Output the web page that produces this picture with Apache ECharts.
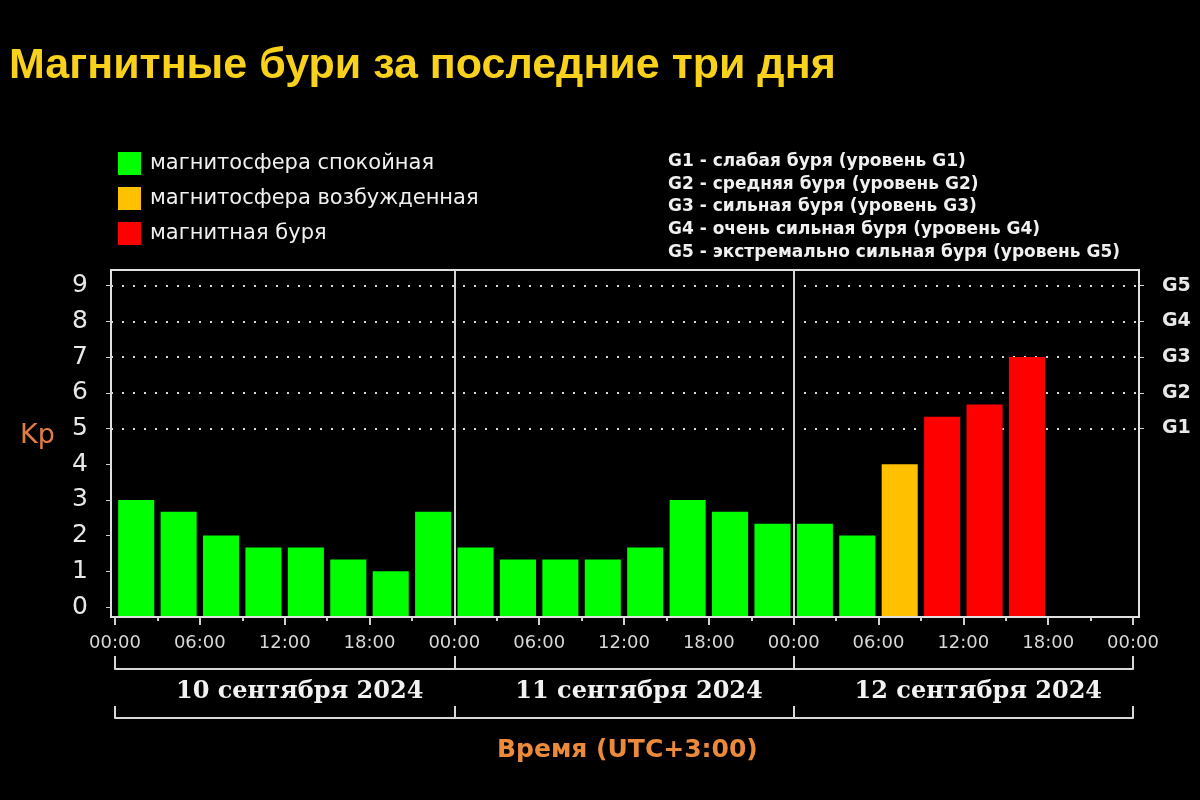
<!DOCTYPE html>
<html>
<head>
<meta charset="utf-8">
<script src="https://cdn.jsdelivr.net/npm/echarts@6/dist/echarts.min.js"></script>
<style>html,body{margin:0;padding:0;background:#000;}#c{width:1200px;height:800px;}</style>
</head>
<body>
<div id="c"></div>
<script>
// ---- data ----
const titleText = 'Магнитные бури за последние три дня';
const slots = [
  '10.09 00:00','10.09 03:00','10.09 06:00','10.09 09:00','10.09 12:00','10.09 15:00','10.09 18:00','10.09 21:00',
  '11.09 00:00','11.09 03:00','11.09 06:00','11.09 09:00','11.09 12:00','11.09 15:00','11.09 18:00','11.09 21:00',
  '12.09 00:00','12.09 03:00','12.09 06:00','12.09 09:00','12.09 12:00','12.09 15:00','12.09 18:00','12.09 21:00'
];
const kpValues = [
  3.0, 2.67, 2.0, 1.67, 1.67, 1.33, 1.0, 2.67,
  1.67, 1.33, 1.33, 1.33, 1.67, 3.0, 2.67, 2.33,
  2.33, 2.0, 4.0, 5.33, 5.67, 7.0, null, null
];
const kpStatus = [
  'calm','calm','calm','calm','calm','calm','calm','calm',
  'calm','calm','calm','calm','calm','calm','calm','calm',
  'calm','calm','excited','storm','storm','storm',null,null
];
const statusNames = {
  calm: 'магнитосфера спокойная',
  excited: 'магнитосфера возбужденная',
  storm: 'магнитная буря'
};
const statusColors = { calm: '#00ff00', excited: '#ffc000', storm: '#ff0000' };
const kpTicks = [0, 1, 2, 3, 4, 5, 6, 7, 8, 9];
const gLevels = [5, 6, 7, 8, 9];
const gLabels = ['G1', 'G2', 'G3', 'G4', 'G5'];
const gLegend = [
  'G1 - слабая буря (уровень G1)',
  'G2 - средняя буря (уровень G2)',
  'G3 - сильная буря (уровень G3)',
  'G4 - очень сильная буря (уровень G4)',
  'G5 - экстремально сильная буря (уровень G5)'
];
const hourTicks = [0, 6, 12, 18, 24, 30, 36, 42, 48, 54, 60, 66, 72];
const hourLabels = ['00:00','06:00','12:00','18:00','00:00','06:00','12:00','18:00','00:00','06:00','12:00','18:00','00:00'];
const dayBoundaries = [24, 48];
const days = ['10 сентября 2024', '11 сентября 2024', '12 сентября 2024'];
const xTitle = 'Время (UTC+3:00)';
const yTitle = 'Kp';

// ---- chart ----
const Y_MIN = -0.28, Y_MAX = 9.44;
const chart = echarts.init(document.getElementById('c'));

function renderBar(params, api) {
  const v = api.value(1);
  const i = api.value(0);
  const top = api.coord([i, v]);
  const base = api.coord([i, Y_MIN]);
  const bw = api.size([1, 0])[0] * 0.85;
  return {
    type: 'rect',
    shape: { x: top[0] - bw / 2, y: top[1], width: bw, height: base[1] - top[1] },
    style: api.style()
  };
}
function renderNothing() { return null; }

const series = Object.keys(statusNames).map((key) => {
  const data = [];
  kpValues.forEach((v, i) => { if (v != null && kpStatus[i] === key) data.push([i, v]); });
  return {
    name: statusNames[key],
    type: 'custom',
    xAxisIndex: 1,
    yAxisIndex: 2,
    renderItem: renderBar,
    encode: { x: 0, y: 1 },
    itemStyle: { color: statusColors[key] },
    z: 3,
    data: data
  };
});
// G-level dotted lines across the whole plot frame
series.push({
  name: 'levels', type: 'custom', xAxisIndex: 0, yAxisIndex: 0, renderItem: renderNothing, data: [],
  markLine: {
    silent: true, symbol: 'none', z: 1, label: { show: false },
    lineStyle: { color: '#d8d8d8', type: [2, 9], width: 2 },
    data: gLevels.map(v => ({ yAxis: v }))
  }
});
// day separators
series.push({
  name: 'days', type: 'custom', xAxisIndex: 2, yAxisIndex: 2, renderItem: renderNothing, data: [],
  markLine: {
    silent: true, symbol: 'none', z: 1, label: { show: false },
    lineStyle: { color: '#d4d4d4', type: 'solid', width: 2 },
    data: dayBoundaries.map(v => ({ xAxis: v }))
  }
});

const sansFont = 'DejaVu Sans';
const lineCol = '#e0e0e0';

chart.setOption({
  backgroundColor: '#000',
  animation: false,
  title: [
    {
      text: titleText, left: 9, top: 45, padding: 0,
      textStyle: { color: '#f7d11c', fontFamily: 'Liberation Sans', fontWeight: 'bold', fontSize: 43 }
    },
    {
      text: gLegend.join('\n'), left: 668, top: 150, padding: 0,
      textStyle: { color: '#f0f0f0', fontFamily: sansFont, fontWeight: 'bold', fontSize: 17, lineHeight: 22.8 }
    },
    {
      text: xTitle, left: 497, top: 738, padding: 0,
      textStyle: { color: '#ec8a3c', fontFamily: sansFont, fontWeight: 'bold', fontSize: 25 }
    }
  ],
  graphic: [
    {
      type: 'text', left: 20, top: 422,
      style: { text: yTitle, fill: '#e27d42', font: '27px "DejaVu Sans"' }
    }
  ],
  legend: {
    orient: 'vertical', left: 113, top: 147,
    itemWidth: 23, itemHeight: 23, itemGap: 12,
    icon: 'rect',
    textStyle: { color: '#f0f0f0', fontFamily: sansFont, fontSize: 21, padding: [0, 0, 0, 4] },
    data: Object.keys(statusNames).map(k => statusNames[k])
  },
  grid: [
    { left: 111, right: 61, top: 270, bottom: 183, show: true, borderColor: lineCol, borderWidth: 2, backgroundColor: 'transparent' },
    { left: 115, right: 67, top: 270, bottom: 183 },
    { left: 115, right: 67, top: 600, bottom: 131 }
  ],
  xAxis: [
    { type: 'value', gridIndex: 0, min: 0, max: 1, show: false },
    { type: 'category', gridIndex: 1, data: slots, show: false, boundaryGap: true },
    {
      type: 'value', gridIndex: 1, position: 'bottom', min: 0, max: 72, interval: 3, z: 5,
      axisLine: { show: true, onZero: false, lineStyle: { color: lineCol, width: 2 } },
      axisTick: { show: true, length: 4, lineStyle: { color: '#d0d0d0', width: 2 } },
      splitLine: { show: false },
      axisLabel: { show: false }
    },
    {
      type: 'value', gridIndex: 1, position: 'bottom', min: 0, max: 72, z: 5,
      axisLine: { show: false, onZero: false },
      axisTick: { show: true, customValues: hourTicks, length: 8, lineStyle: { color: '#d0d0d0', width: 2 } },
      splitLine: { show: false },
      axisLabel: {
        customValues: hourTicks, margin: 17, color: '#d8d8d8', fontFamily: sansFont, fontSize: 18,
        showMinLabel: true, showMaxLabel: true,
        formatter: v => hourLabels[hourTicks.indexOf(v)]
      }
    },
    {
      type: 'category', gridIndex: 2, position: 'bottom', data: days, offset: 0,
      axisLine: { show: true, lineStyle: { color: '#d8d8d8', width: 2 } },
      axisTick: { show: true, inside: true, length: 13, lineStyle: { color: '#d8d8d8', width: 2 } },
      axisLabel: { margin: 11, padding: [0, 0, 0, 30], color: '#f2f2f2', fontFamily: 'DejaVu Serif', fontWeight: 'bold', fontSize: 24 }
    },
    {
      type: 'category', gridIndex: 2, position: 'bottom', data: days, offset: 49,
      axisLine: { show: true, lineStyle: { color: '#d8d8d8', width: 2 } },
      axisTick: { show: true, inside: true, length: 12, lineStyle: { color: '#d8d8d8', width: 2 } },
      axisLabel: { show: false }
    }
  ],
  yAxis: [
    {
      type: 'value', gridIndex: 0, position: 'left', min: Y_MIN, max: Y_MAX,
      axisLine: { show: true, onZero: false, lineStyle: { color: lineCol, width: 2 } },
      axisTick: { show: true, customValues: kpTicks, length: 5, lineStyle: { color: '#d0d0d0' } },
      splitLine: { show: false },
      axisLabel: { customValues: kpTicks, margin: 23, color: '#e8e8e8', fontFamily: sansFont, fontSize: 25 }
    },
    {
      type: 'value', gridIndex: 0, position: 'right', min: Y_MIN, max: Y_MAX,
      axisLine: { show: true, onZero: false, lineStyle: { color: lineCol, width: 2 } },
      axisTick: { show: true, customValues: gLevels, length: 5, lineStyle: { color: '#d0d0d0' } },
      splitLine: { show: false },
      axisLabel: {
        customValues: gLevels, margin: 23, color: '#e8e8e8', fontFamily: sansFont, fontWeight: 'bold', fontSize: 19,
        formatter: v => gLabels[gLevels.indexOf(v)]
      }
    },
    { type: 'value', gridIndex: 1, min: Y_MIN, max: Y_MAX, show: false },
    { type: 'value', gridIndex: 2, show: false }
  ],
  series: series
});
</script>
</body>
</html>
